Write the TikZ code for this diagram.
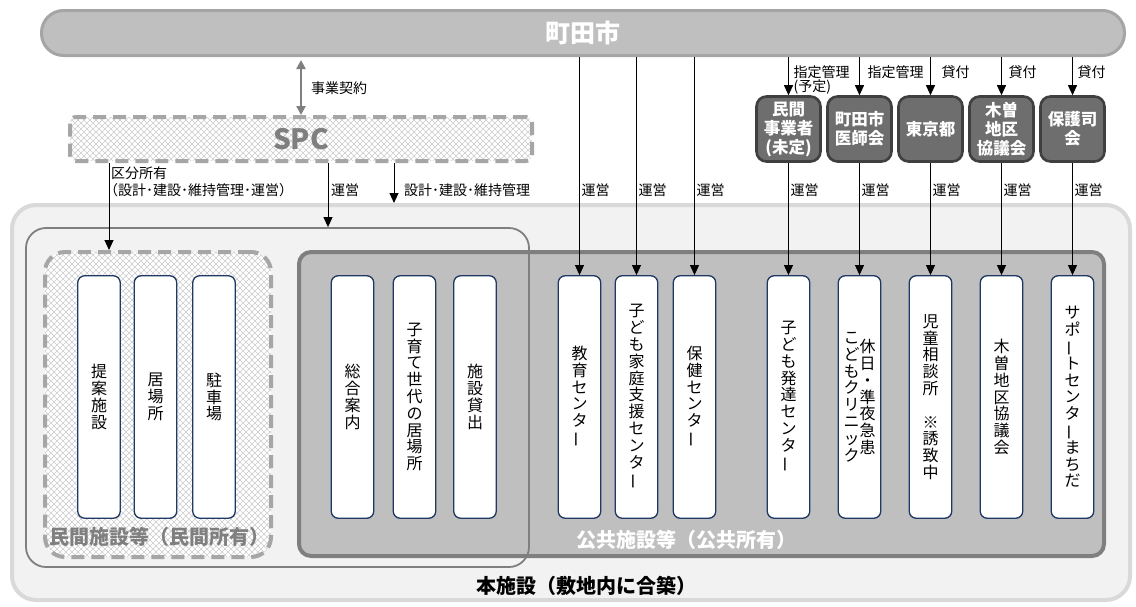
\documentclass[tikz,border=0pt]{standalone}
\usepackage{fontspec}
\setmainfont{Noto Sans CJK JP}
\usetikzlibrary{arrows.meta,positioning,patterns.meta}

\definecolor{barfill}{HTML}{BFBFBF}
\definecolor{barline}{HTML}{A5A5A5}
\definecolor{midgray}{HTML}{7F7F7F}
\definecolor{dashgray}{HTML}{A6A6A6}
\definecolor{hatchgray}{HTML}{CCCCCC}
\definecolor{outerfill}{HTML}{F2F2F2}
\definecolor{outerline}{HTML}{D9D9D9}
\definecolor{orgfill}{HTML}{6E6E6E}
\definecolor{orgline}{HTML}{3F3F3F}
\definecolor{navy}{HTML}{1F3864}

\tikzdeclarepattern{
  name=xhatch,
  type=uncolored,
  bounding box={(-1pt,-1pt) and (7pt,7pt)},
  tile size={(6pt,6pt)},
  code={\draw[line width=.5pt] (0pt,0pt) -- (6pt,6pt) (0pt,6pt) -- (6pt,0pt);}
}

\newcommand{\lblfont}{\fontsize{14}{16}\selectfont}
\newcommand{\vfont}{\fontsize{16}{17}\selectfont}
\newcommand{\orgfont}{\fontsize{16.5}{19}\selectfont\bfseries}
\newcommand{\areafont}{\fontsize{20}{24}\selectfont\bfseries}
% vertical text: one character per row
\newcommand{\cho}{\rotatebox[origin=c]{90}{ー}}
\newcommand{\gap}{\rule{0pt}{1pt}}
\def\vtloop#1{\ifx#1\relax\else\hbox to 17pt{\hss#1\hss}\expandafter\vtloop\fi}
\newcommand{\vt}[1]{$\vcenter{\baselineskip=16.8pt\lineskiplimit=-20pt\lineskip=0pt\expandafter\vtloop#1\relax}$}

\begin{document}
\begin{tikzpicture}[x=1pt,y=-1pt,
  fac/.style={draw=navy,line width=1.3pt,fill=white,rounded corners=7pt,minimum width=42.5pt,minimum height=242.5pt,inner sep=0pt,font=\vfont},
  org/.style={draw=orgline,line width=2.6pt,fill=orgfill,rounded corners=10pt,minimum width=64pt,minimum height=65pt,inner sep=0pt,text=white,align=center,font=\orgfont},
  hatched/.style={draw=dashgray,line width=4pt,dash pattern=on 13pt off 7pt,preaction={fill=white},pattern=xhatch,pattern color=hatchgray},
  lbl/.style={font=\lblfont,inner sep=0pt,anchor=west},
  arr/.style={-{Triangle[length=10pt,width=9pt]},line width=.9pt}]
\useasboundingbox (0,0) rectangle (1136,606);

% areas
\node[draw=outerline,fill=outerfill,line width=4pt,rounded corners=24pt,minimum width=1118pt,minimum height=395pt] (honbox) at (571,402.5) {};
\node[draw=midgray,fill=barfill,line width=4pt,rounded corners=12pt,minimum width=805pt,minimum height=304pt] (pubbox) at (701.5,404) {};
\node[hatched,rounded corners=20pt,minimum width=226pt,minimum height=305pt] (privbox) at (158,404.5) {};
\node[draw=midgray,line width=1.8pt,rounded corners=20pt,minimum width=503pt,minimum height=339pt] (opbox) at (277.5,397.5) {};
\node[font=\areafont,text=midgray] at (159,537) {民間施設等（民間所有）};
\node[font=\areafont,text=white] at (686,540) {公共施設等（公共所有）};
\node[font=\areafont] at (586,586) {本施設（敷地内に合築）};

% top
\node[draw=barline,fill=barfill,line width=3pt,rounded corners=22pt,minimum width=1083pt,minimum height=45pt,text=white,font=\fontsize{25}{28}\selectfont\bfseries] (machida) at (583,33) {町田市};
\node[hatched,rounded corners=6pt,minimum width=462pt,minimum height=44pt,text=midgray,font=\fontsize{28}{30}\selectfont\bfseries] (spc) at (301,139) {SPC};

% facilities
\foreach \n/\x/\lab in {teian/99/提案施設, ibasho/155.5/居場所, parking/214/駐車場,
  annai/352.5/総合案内, kosodate/414.5/子育て世代の居場所, kashidashi/475/施設貸出,
  kyoiku/579.5/教育センタ\cho, kateishien/636.5/子ども家庭支援センタ\cho, hoken/694.5/保健センタ\cho,
  hattatsu/788.5/子ども発達センタ\cho, jido/930.5/児童相談所\gap※誘致中,
  kisofac/1001.5/木曽地区協議会, support/1072.5/サポ\cho トセンタ\cho まちだ}
  \node[fac] (\n) at (\x,397) {\vt{\lab}};
\node[fac] (kyujitsu) at (859.5,397) {\vt{こどもクリニック}\kern-1pt\vt{休日・準夜急患}};

% operators
\node[org] (minkan) at (788.5,129) {民間\\事業者\\(未定)};
\node[org] (ishikai) at (859.5,129) {町田市\\医師会};
\node[org] (tokyo) at (930.5,129) {東京都};
\node[org] (kiso) at (1001.5,129) {木曽\\地区\\協議会};
\node[org] (hogoshi) at (1072.5,129) {保護司\\会};

% connectors
\draw[{Triangle[length=9pt,width=9pt]}-{Triangle[length=9pt,width=9pt]},draw=midgray,line width=2.2pt,shorten <=3pt] (machida.south -| spc.north) -- (spc.north);
\node[lbl] at (311,88) {事業契約};
\draw[arr] (spc.south -| 109,0) -- (109,0 |- privbox.north);
\draw[arr] (spc.south -| 328,0) -- (328,0 |- opbox.north);
\draw[arr] (spc.south -| 394,0) -- (394,0 |- honbox.north);
\node[lbl] at (111,173) {区分所有};
\node[lbl] at (104,190) {（設計･建設･維持管理･運営）};
\node[lbl] at (331,190) {運営};
\node[lbl] at (404,190) {設計･建設･維持管理};

\foreach \f in {kyoiku,kateishien,hoken}{
  \draw[arr] (machida.south -| \f.north) -- (\f.north);
  \node[lbl,xshift=2pt] at (\f.north |- 0,190) {運営};
}
\foreach \o/\f in {minkan/hattatsu,ishikai/kyujitsu,tokyo/jido,kiso/kisofac,hogoshi/support}{
  \draw[arr] (machida.south -| \o.north) -- (\o.north);
  \draw[arr] (\o.south) -- (\f.north);
  \node[lbl,xshift=2pt] at (\o.south |- 0,190) {運営};
}
\node[lbl,xshift=5pt] at (minkan.north |- 0,72) {指定管理};
\node[lbl,xshift=5pt] at (minkan.north |- 0,87) {(予定)};
\node[lbl,xshift=8pt] at (ishikai.north |- 0,72) {指定管理};
\node[lbl,xshift=11pt] at (tokyo.north |- 0,72) {貸付};
\node[lbl,xshift=7pt] at (kiso.north |- 0,72) {貸付};
\node[lbl,xshift=5pt] at (hogoshi.north |- 0,72) {貸付};
\end{tikzpicture}
\end{document}
